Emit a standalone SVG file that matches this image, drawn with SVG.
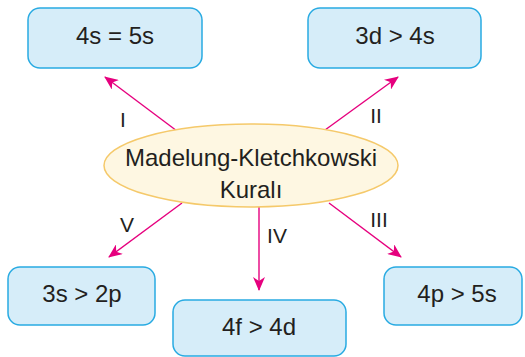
<svg xmlns="http://www.w3.org/2000/svg" width="525" height="357" viewBox="0 0 525 357">
<style>
.box{fill:#d6edf9;stroke:#29abe2;stroke-width:1.5}
.t{font-family:"Liberation Sans",Arial,sans-serif;font-size:24px;fill:#231f20;text-anchor:middle}
.lbl{font-family:"Liberation Sans",Arial,sans-serif;font-size:21px;fill:#231f20;text-anchor:middle}
.c{stroke:#e6007e;stroke-width:1.4;fill:none;marker-end:url(#ah)}
</style>
<defs>
<marker id="ah" markerUnits="userSpaceOnUse" markerWidth="14" markerHeight="12" viewBox="0 0 14 12" refX="13" refY="6" orient="auto">
<path d="M0,0 L14,6 L0,12 L4,6 Z" fill="#e6007e"/>
</marker>
</defs>
<rect width="525" height="357" fill="#ffffff"/>
<g id="connectors">
<line class="c" x1="177" y1="131" x2="105" y2="77"/>
<line class="c" x1="325" y1="130" x2="398" y2="77"/>
<line class="c" x1="182" y1="203" x2="109" y2="257"/>
<line class="c" x1="259" y1="207" x2="259" y2="290"/>
<line class="c" x1="329" y1="203" x2="401" y2="257"/>
<text class="lbl" x="123" y="127">I</text>
<text class="lbl" x="376" y="123">II</text>
<text class="lbl" x="379" y="227">III</text>
<text class="lbl" x="277" y="243">IV</text>
<text class="lbl" x="127" y="232">V</text>
</g>
<g id="center">
<ellipse cx="251" cy="165.5" rx="147" ry="41.5" fill="#fef7e2" stroke="#f5c96a" stroke-width="1.5"/>
<text class="t" x="251" y="166">Madelung-Kletchkowski</text>
<text class="t" x="251" y="198">Kuralı</text>
</g>
<g id="n1">
<rect class="box" x="28" y="8" width="174" height="60" rx="12"/>
<text class="t" x="115" y="44">4s = 5s</text>
</g>
<g id="n2">
<rect class="box" x="308" y="8" width="173" height="60" rx="12"/>
<text class="t" x="395" y="44">3d &gt; 4s</text>
</g>
<g id="n3">
<rect class="box" x="8" y="267" width="147" height="58" rx="12"/>
<text class="t" x="82" y="302">3s &gt; 2p</text>
</g>
<g id="n4">
<rect class="box" x="173" y="300" width="173" height="56" rx="12"/>
<text class="t" x="259" y="335">4f &gt; 4d</text>
</g>
<g id="n5">
<rect class="box" x="384" y="267" width="138" height="58" rx="12"/>
<text class="t" x="457" y="302">4p &gt; 5s</text>
</g>
</svg>
